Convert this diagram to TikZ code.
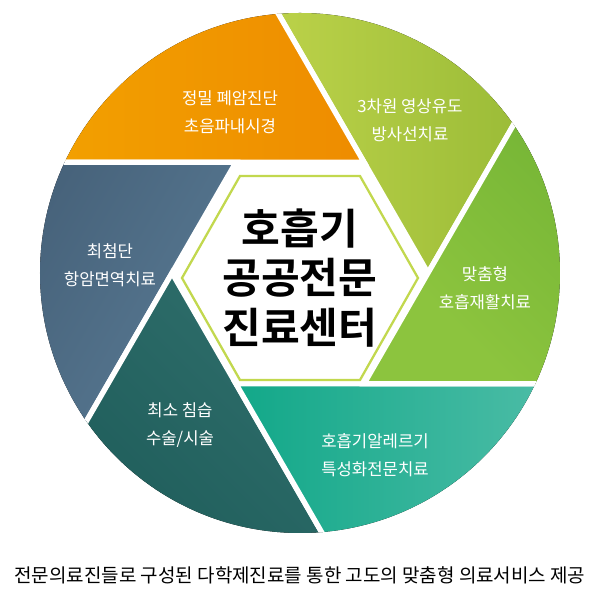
\documentclass[tikz,border=0pt]{standalone}
\usepackage{fontspec}
\usetikzlibrary{calc}
\setmainfont{Noto Sans CJK KR}
\newfontfamily\boldkr{Noto Sans CJK KR Bold}
\begin{document}
\begin{tikzpicture}[x=0.02cm,y=-0.02cm,
    blade/.style={draw=white,line width=3pt,line join=miter},
    bladetext/.style={text=white,font=\fontsize{9.5}{16}\selectfont,align=center}]
    \definecolor{orangeA}{HTML}{F8B800}
    \definecolor{orangeB}{HTML}{EE8C00}
    \definecolor{limeA}{HTML}{C8DA50}
    \definecolor{limeB}{HTML}{86AE2C}
    \definecolor{grnA}{HTML}{8CC43E}
    \definecolor{grnB}{HTML}{55A02A}
    \definecolor{tealA}{HTML}{12A889}
    \definecolor{tealB}{HTML}{90D4C8}
    \definecolor{darkA}{HTML}{0C4A48}
    \definecolor{darkB}{HTML}{2F6E6B}
    \definecolor{slateA}{HTML}{5E819B}
    \definecolor{slateB}{HTML}{384F66}
    \definecolor{hexline}{HTML}{C2D84E}
    \useasboundingbox (0,0) rectangle (600,590);
    % Define hexagon size
    \def\hexR{128}
    \begin{scope}[shift={(300,273)}]
        \clip (0,0) circle (260);
        % Blades: corner at a hexagon vertex, two rays
        \fill[blade,left color=limeA,right color=limeB] (0:\hexR) -- ++(-60:500) -- ++(-150:500) -- ($(0:\hexR)+(-120:500)$) -- cycle;
        \fill[blade,left color=orangeA,right color=orangeB] (-60:\hexR) -- ++(-120:500) -- ++(-210:500) -- ($(-60:\hexR)+(-180:500)$) -- cycle;
        \fill[blade,left color=slateB,right color=slateA,shading angle=60] (-120:\hexR) -- ++(-180:500) -- ++(-270:500) -- ($(-120:\hexR)+(-240:500)$) -- cycle;
        \fill[blade,left color=darkA,right color=darkB,shading angle=135] (-180:\hexR) -- ++(-240:500) -- ++(-330:500) -- ($(-180:\hexR)+(-300:500)$) -- cycle;
        \fill[blade,left color=tealA,right color=tealB] (-240:\hexR) -- ++(-300:500) -- ++(-390:500) -- ($(-240:\hexR)+(-360:500)$) -- cycle;
        \fill[blade,left color=grnA,right color=grnB,shading angle=135] (-300:\hexR) -- ++(-360:500) -- ++(-450:500) -- ($(-300:\hexR)+(-420:500)$) -- cycle;
    \end{scope}

    % Central hexagon
    \draw[hexline,line width=1.3pt,fill=white] (182,278) -- (240,176) -- (360,176) -- (418,278) -- (360,380) -- (240,380) -- cycle;
    \node[font=\boldkr\fontsize{24}{28}\selectfont,align=center] (center) at (300,278) {호흡기\\공공전문\\진료센터};

    % Blade labels
    \node[bladetext] (scan) at (230,112) {정밀 폐암진단\\초음파내시경};
    \node[bladetext] (radio) at (410,120) {3차원 영상유도\\방사선치료};
    \node[bladetext] (rehab) at (485,288) {맞춤형\\호흡재활치료};
    \node[bladetext] (allergy) at (375,455) {호흡기알레르기\\특성화전문치료};
    \node[bladetext] (surgery) at (180,425) {최소 침습\\수술/시술};
    \node[bladetext] (cancer) at (110,265) {최첨단\\항암면역치료};

    \node[font=\fontsize{10.8}{13}\selectfont] (caption) at (300,575) {전문의료진들로 구성된 다학제진료를 통한 고도의 맞춤형 의료서비스 제공};
\end{tikzpicture}
\end{document}
